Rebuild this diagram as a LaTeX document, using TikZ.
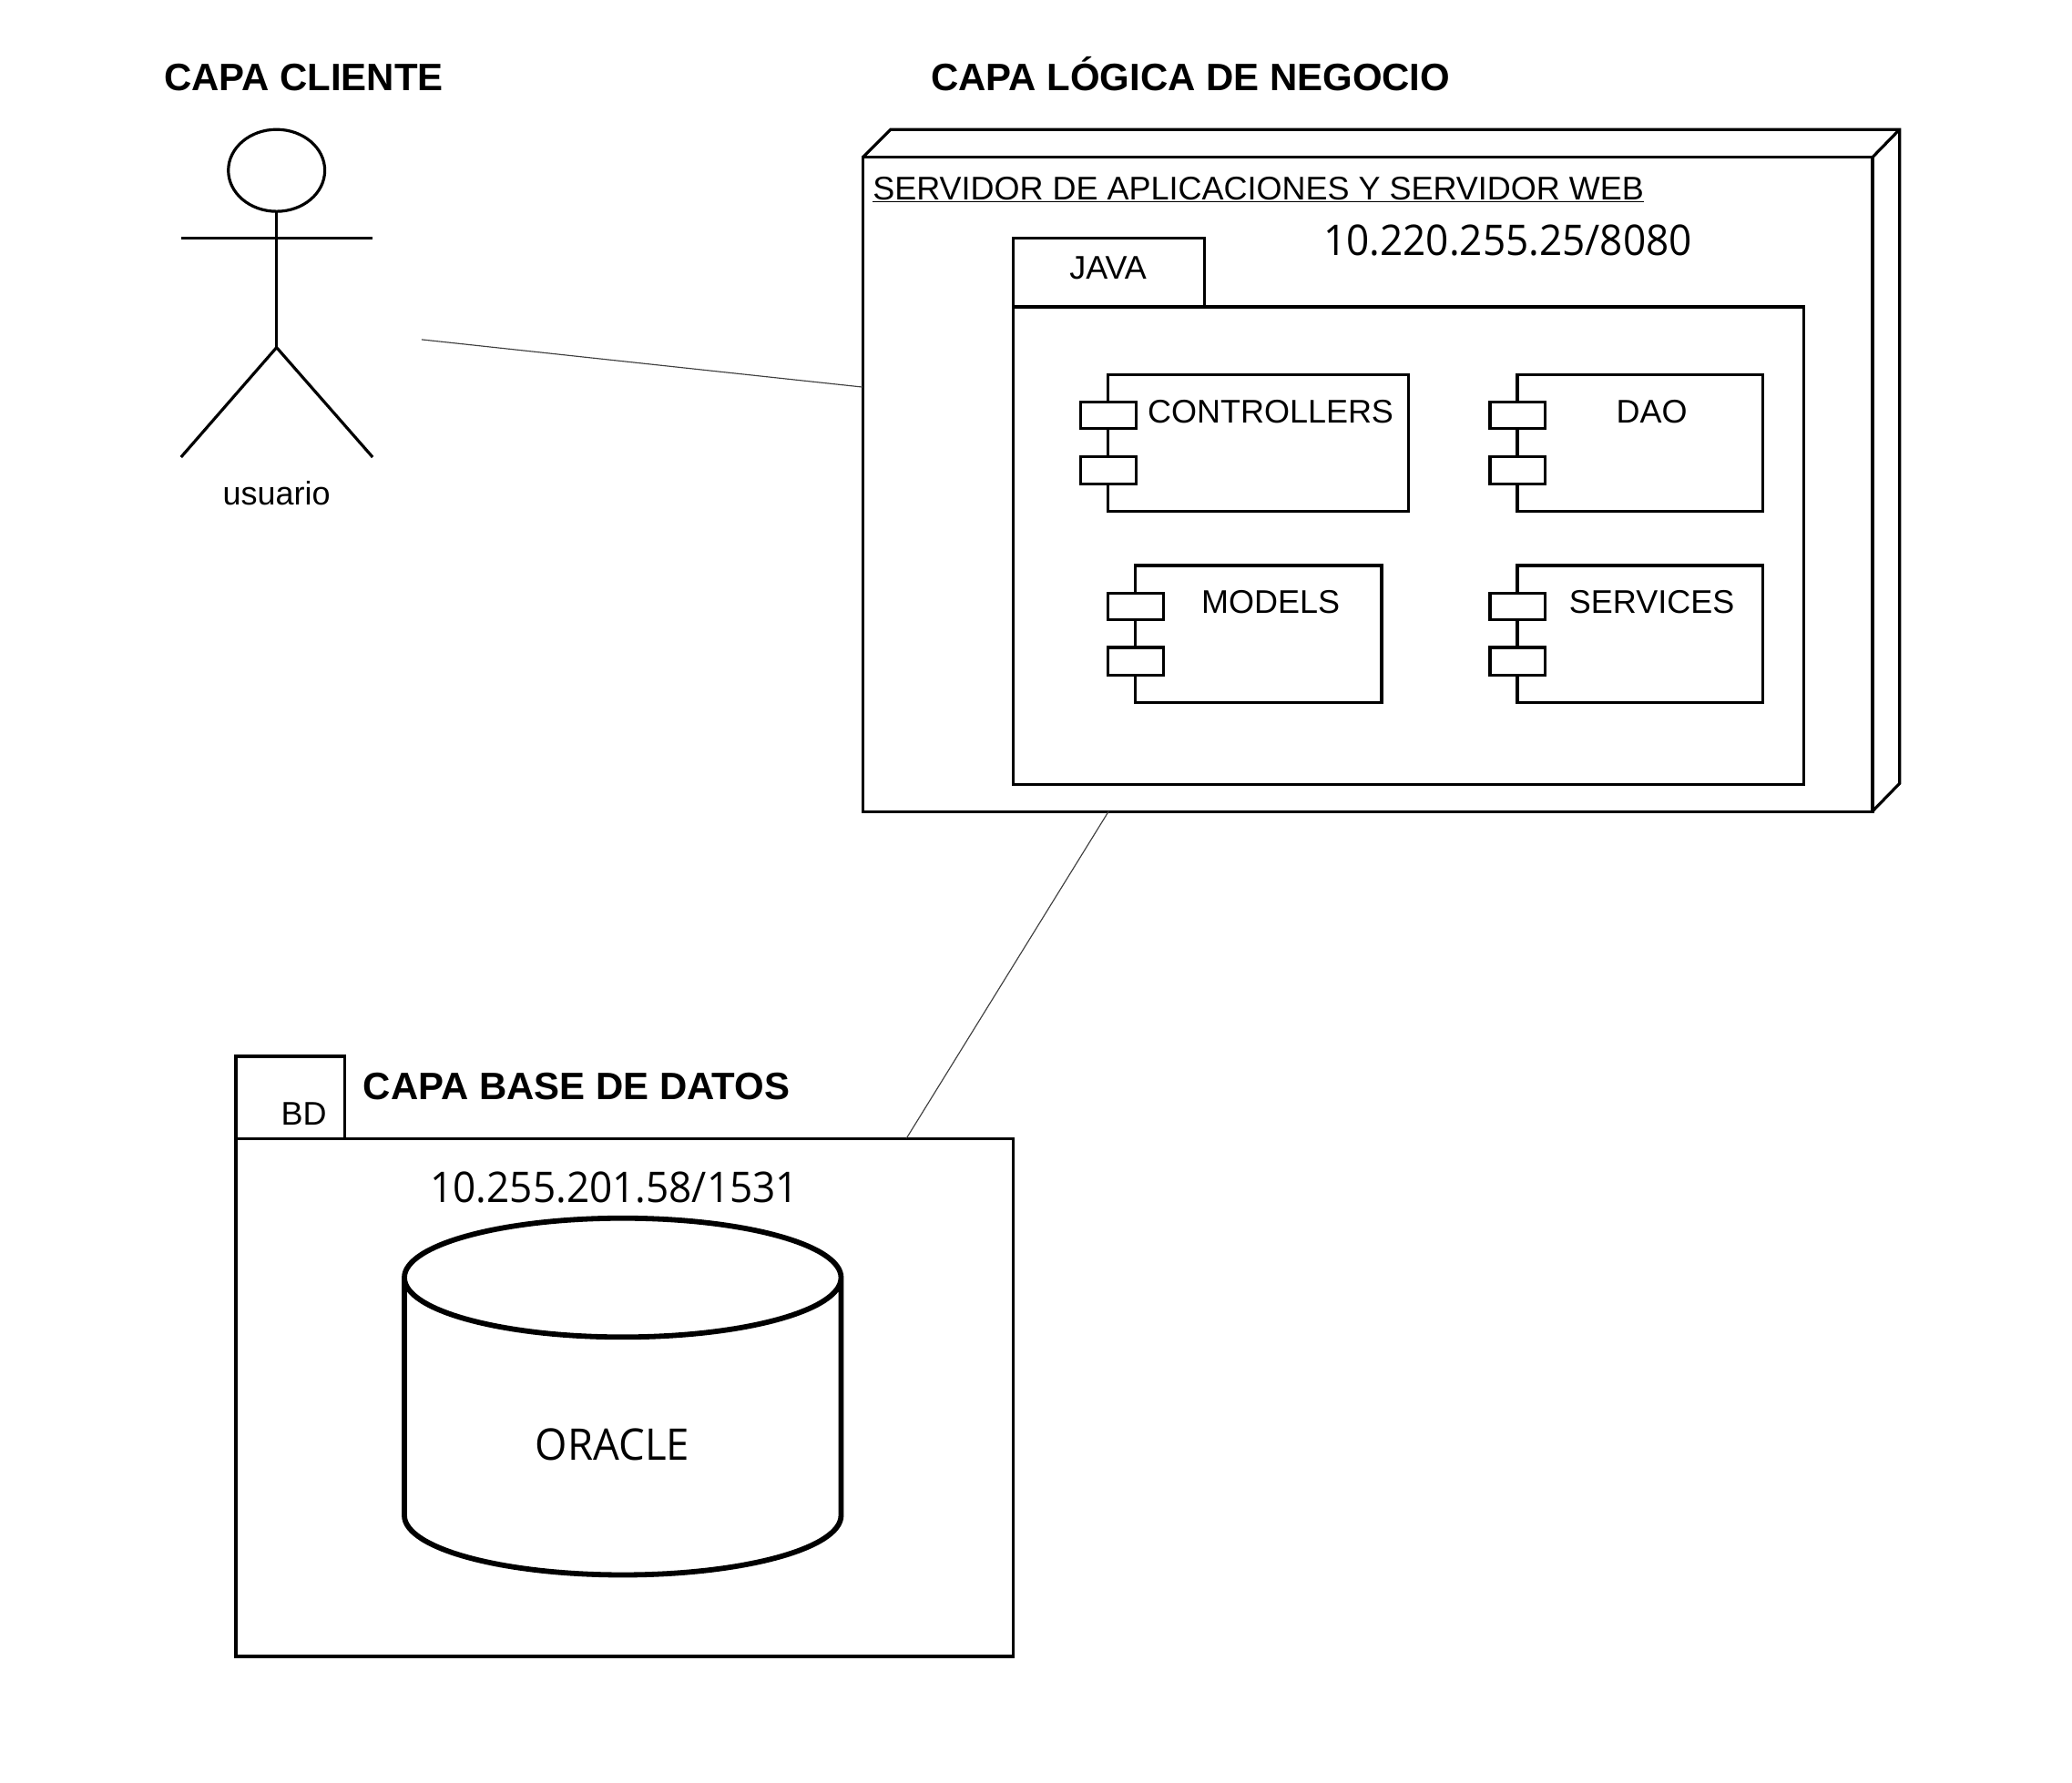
\documentclass[tikz,border=0pt]{standalone}
\usepackage{fontspec}
\usetikzlibrary{shapes.geometric}
\setmainfont{Liberation Sans}
\newfontfamily\myr[FakeStretch=0.95]{Open Sans}
\tikzset{
  x=1pt,y=-1pt,
  box/.style={draw=black,line width=2.2pt,fill=white,inner sep=0pt,outer sep=0pt,anchor=north west},
  lbl/.style={inner sep=0pt,outer sep=0pt,anchor=base,text=black},
  head/.style={lbl,font=\fontsize{28.9}{32}\selectfont\bfseries},
  comp/.style={lbl,font=\fontsize{24.8}{30}\selectfont},
  ip/.style={lbl,font=\myr\fontsize{32}{36}\selectfont},
  link/.style={draw=black!75,line width=0.8pt},
  stroke/.style={draw=black,line width=2.2pt},
}
\newcommand{\bx}[5]{\node[box,minimum width=#4pt-#2pt,minimum height=#5pt-#3pt] (#1) at (#2,#3) {};}
\newcommand{\cmpn}[7]{% name x1 y1 x2 y2 labelx label
  \bx{#1}{#2}{#3}{#4}{#5}
  \pgfmathsetmacro{\lx}{#2-20.7}
  \pgfmathsetmacro{\lxb}{#2+21}
  \pgfmathsetmacro{\tya}{#3+21}
  \pgfmathsetmacro{\tyb}{#3+41}
  \pgfmathsetmacro{\tyc}{#3+62}
  \pgfmathsetmacro{\tyd}{#3+83}
  \bx{#1p}{\lx}{\tya}{\lxb}{\tyb}
  \bx{#1q}{\lx}{\tyc}{\lxb}{\tyd}
  \node[comp] (#1t) at (#6,#3+36.3) {#7};
}
\begin{document}
\begin{tikzpicture}
\useasboundingbox (0,0) rectangle (1568,1349);
% headings
\node[head] (h1) at (229.8,68.3) {CAPA CLIENTE};
\node[head] (h2) at (901,68.3) {CAPA LÓGICA DE NEGOCIO};
% actor
\node[draw=black,line width=2.2pt,ellipse,minimum width=73pt,minimum height=62pt,inner sep=0pt,outer sep=0pt] (actorhead) at (209.3,129) {};
\coordinate (hip) at (209.3,263);
\coordinate (armL) at (137,180.5);
\coordinate (armR) at (282,180.5);
\coordinate (legL) at (137,346);
\coordinate (legR) at (282,346);
\draw[stroke] (actorhead.south) -- (hip);
\draw[stroke] (armL) -- (armR);
\draw[stroke] (legL) -- (hip) -- (legR);
\node[comp] (usr) at (209.3,382) {usuario};
% server 3D
\coordinate (s1) at (653,119);
\coordinate (s2) at (674,98);
\coordinate (s3) at (1437.5,98);
\coordinate (s4) at (1437.5,593);
\coordinate (s5) at (1417,614);
\coordinate (s6) at (1417,119);
\draw[stroke,line join=miter] (s1) -- (s2) -- (s3) -- (s4) -- (s5);
\draw[stroke] (s6) -- (s3);
\bx{server}{653}{119}{1417}{614.3}
\node[lbl,font=\fontsize{24.8}{30}\selectfont,anchor=base west] (srvt) at (660.5,151) {\underline{SERVIDOR DE APLICACIONES Y SERVIDOR WEB}};
\node[ip] (ip1) at (1141,193) {10.220.255.25/8080};
% java package
\bx{javatab}{766.5}{180.5}{911.5}{232.3}
\bx{java}{766.5}{232.3}{1365}{593.5}
\node[comp] (javat) at (838.5,211) {JAVA};
\cmpn{ctrl}{838.7}{283.5}{1066}{387}{961.5}{CONTROLLERS}
\cmpn{dao}{1148.3}{283.5}{1334}{387}{1250}{DAO}
\cmpn{models}{859.3}{428}{1045.5}{531.5}{961.5}{MODELS}
\cmpn{services}{1148.3}{428}{1334}{531.5}{1250}{SERVICES}
% db package
\bx{bdtab}{178.5}{799.5}{261}{861.7}
\bx{bd}{178.5}{861.7}{766.5}{1253.7}
\node[comp] (bdt) at (230,851.3) {BD};
\node[head] (h3) at (436.3,832.3) {CAPA BASE DE DATOS};
\node[ip] (ip2) at (465,910) {10.255.201.58/1531};
% cylinder
\coordinate (cl) at (306,967);
\coordinate (cr) at (636.5,967);
\coordinate (cd) at (306,1147);
\draw[draw=black,line width=4pt] (cl) arc[x radius=165.25,y radius=45,start angle=180,end angle=-180]
  (cl) -- (cd) arc[x radius=165.25,y radius=45,start angle=180,end angle=0] -- (cr);
\node[ip,font=\myr\fontsize{33}{36}\selectfont] (orc) at (463.5,1105.5) {ORACLE};
% connectors
\coordinate (actorport) at (319,257);
\coordinate (serverW) at (653,293);
\coordinate (serverS) at (839,614);
\coordinate (bdN) at (686,861.5);
\draw[link] (actorport) -- (serverW);
\draw[link] (serverS) -- (bdN);
\end{tikzpicture}
\end{document}
